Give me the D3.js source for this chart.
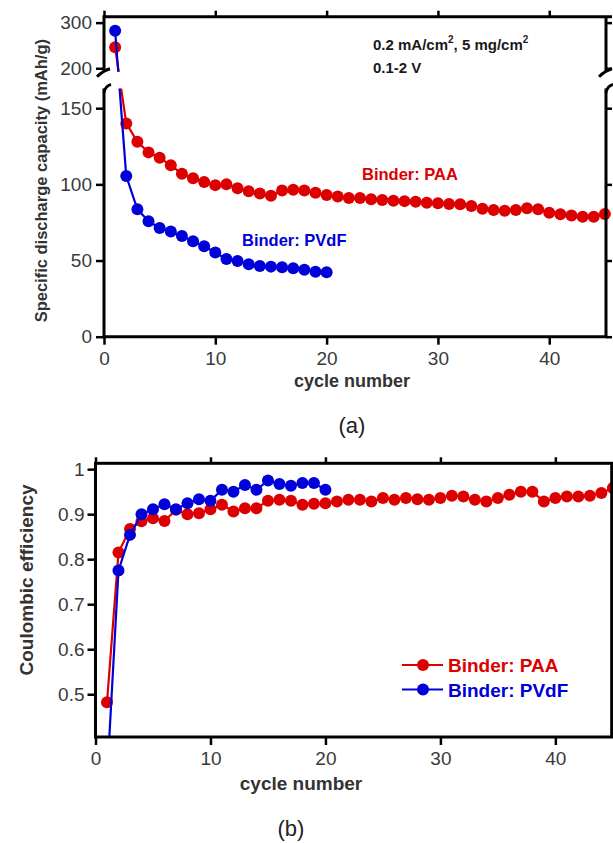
<!DOCTYPE html>
<html>
<head>
<meta charset="utf-8">
<script src="https://cdn.jsdelivr.net/npm/d3@7"></script>
<style>
  html, body { margin: 0; padding: 0; background: #fff; }
  svg { display: block; font-family: "Liberation Sans", Arial, sans-serif; }
  .tick text { font-size: 19px; fill: #3a3a3a; }
  .tick line { stroke: #000; stroke-width: 2.5; }
  .frame { stroke: #000; stroke-width: 3; fill: none; }
  .axis-title { font-weight: bold; fill: #333; }
</style>
</head>
<body>
<div id="chart"></div>
<script>
// cycle index = position in the array + 1
const capPAA = [246, 140, 128, 121, 117.5, 112.5, 107, 104, 101.5, 99.5,
  100, 97.5, 95.5, 94, 92.5, 96, 96.5, 96, 94.5, 93,
  92, 91, 91, 90.2, 89.8, 89.3, 89, 88.6, 88, 87.6,
  87.1, 86.9, 85.8, 84, 83.2, 82.7, 83.2, 84.3, 83.6, 81.4,
  80.4, 79.5, 78.8, 78.8, 80.5];
const capPVdF = [282, 105.5, 83.6, 75.8, 71.4, 69, 66.1, 62.6, 59.4, 55.2,
  51, 49.7, 47.5, 46.4, 46, 45.6, 44.9, 44, 42.7, 42.3];

const cePAA = [0.482, 0.815, 0.867, 0.884, 0.891, 0.885, 0.91, 0.90, 0.902, 0.911,
  0.921, 0.906, 0.913, 0.913, 0.930, 0.932, 0.930, 0.921, 0.923, 0.924,
  0.928, 0.932, 0.932, 0.928, 0.936, 0.932, 0.936, 0.933, 0.932, 0.936,
  0.941, 0.939, 0.932, 0.928, 0.936, 0.943, 0.950, 0.950, 0.928, 0.936,
  0.939, 0.939, 0.941, 0.947, 0.958];
const cePVdF = [0.31, 0.775, 0.854, 0.90, 0.911, 0.922, 0.911, 0.924, 0.933, 0.930,
  0.954, 0.950, 0.965, 0.954, 0.975, 0.967, 0.963, 0.969, 0.969, 0.954];

const xTicks = [0, 10, 20, 30, 40];
const capTicksLow = [0, 50, 100, 150];
const capTicksHigh = [200, 300];
const ceTicks = [0.5, 0.6, 0.7, 0.8, 0.9, 1];

const RED = "#dc0000", BLUE = "#0000d8";
const series = [
  { name: "Binder: PAA", color: RED, cap: capPAA, ce: cePAA },
  { name: "Binder: PVdF", color: BLUE, cap: capPVdF, ce: cePVdF }
];
const DOT = 6;

const svg = d3.select("#chart").append("svg").attr("width", 613).attr("height", 843);

// ---------- (a) capacity ----------
const xA = d3.scaleLinear().domain([0, 45.1]).range([104, 606]);
// broken axis: 163..192.5 is the gap
const yA = d3.scaleLinear().domain([0, 163, 192.5, 313]).range([336.7, 88.4, 71.7, 16.7]);
const gapTop = yA(192.5), gapBot = yA(163);

svg.append("clipPath").attr("id", "clipAup").append("rect")
  .attr("x", 0).attr("y", 0).attr("width", 613).attr("height", gapTop);
svg.append("clipPath").attr("id", "clipAlow").append("rect")
  .attr("x", 0).attr("y", gapBot).attr("width", 613).attr("height", 337 - gapBot);

const lineA = d3.line().x((d, i) => xA(i + 1)).y(d => yA(d));

["clipAup", "clipAlow"].forEach(cid => {
  const pg = svg.append("g").attr("clip-path", `url(#${cid})`);
  series.forEach(s => {
    pg.append("path").datum(s.cap).attr("d", lineA)
      .attr("fill", "none").attr("stroke", s.color).attr("stroke-width", 2.2);
    pg.selectAll(null).data(s.cap).enter().append("circle")
      .attr("cx", (d, i) => xA(i + 1)).attr("cy", d => yA(d))
      .attr("r", DOT).attr("fill", s.color);
  });
});

// axes
const axA = svg.append("g");
axA.append("g").attr("transform", `translate(0,${yA(0)})`)
  .call(d3.axisBottom(xA).tickValues(xTicks).tickSize(8).tickPadding(7).tickSizeOuter(0))
  .call(g => g.select(".domain").remove());
axA.append("g").attr("transform", `translate(0,${yA(313)})`)
  .call(d3.axisTop(xA).tickValues(xTicks).tickSize(6).tickFormat("").tickSizeOuter(0))
  .call(g => g.select(".domain").remove());
axA.append("g").attr("transform", `translate(${xA(0)},0)`)
  .call(d3.axisLeft(yA).tickValues(capTicksLow.concat(capTicksHigh)).tickSize(8).tickPadding(4))
  .call(g => g.select(".domain").remove());
axA.append("g").attr("transform", `translate(${xA(45.1)},0)`)
  .call(d3.axisRight(yA).tickValues(capTicksLow.concat(capTicksHigh)).tickSize(6).tickFormat(""))
  .call(g => g.select(".domain").remove());

const L = xA(0), R = xA(45.1), T = yA(313), B = yA(0);
axA.append("path").attr("class", "frame")
  .attr("d", `M${L},${gapTop} L${L},${T} L${R + 6},${T}`);
axA.append("path").attr("class", "frame")
  .attr("d", `M${L},${gapBot} L${L},${B} L${R},${B} L${R},${gapBot}`);
axA.append("path").attr("class", "frame")
  .attr("d", `M${R},${T} L${R},${gapTop}`);
// break marks
[L, R].forEach(x => {
  axA.append("path").attr("class", "frame").attr("stroke-width", 2.5)
    .attr("d", `M${x - 7},${gapTop + 5} Q${x - 1},${gapTop - 1} ${x + 6},${gapTop - 3}`);
  axA.append("path").attr("class", "frame").attr("stroke-width", 2.5)
    .attr("d", `M${x},${gapBot + 4} Q${x + 1},${gapBot - 2} ${x + 7},${gapBot - 4}`);
});

svg.append("text").attr("class", "axis-title")
  .attr("transform", `translate(47,${(T + B) / 2 + 4}) rotate(-90)`)
  .attr("text-anchor", "middle").style("font-size", "16.5px")
  .text("Specific discharge capacity (mAh/g)");
svg.append("text").attr("class", "axis-title")
  .attr("x", 352).attr("y", 387).attr("text-anchor", "middle").style("font-size", "18px")
  .text("cycle number");
svg.append("text").attr("x", 352).attr("y", 433).attr("text-anchor", "middle")
  .style("font-size", "22px").attr("fill", "#222").text("(a)");

const note = svg.append("text").attr("x", 373).attr("y", 50)
  .style("font-size", "15px").style("font-weight", "bold").attr("fill", "#1a1a1a");
note.append("tspan").text("0.2 mA/cm");
note.append("tspan").attr("dy", -7).style("font-size", "10px").text("2");
note.append("tspan").attr("dy", 7).text(", 5 mg/cm");
note.append("tspan").attr("dy", -7).style("font-size", "10px").text("2");
svg.append("text").attr("x", 373).attr("y", 73)
  .style("font-size", "15px").style("font-weight", "bold").attr("fill", "#1a1a1a").text("0.1-2 V");

svg.append("text").attr("x", 362).attr("y", 180).attr("fill", RED)
  .style("font-size", "16.5px").style("font-weight", "bold").text(series[0].name);
svg.append("text").attr("x", 242).attr("y", 246).attr("fill", BLUE)
  .style("font-size", "16.5px").style("font-weight", "bold").text(series[1].name);

// ---------- (b) coulombic efficiency ----------
const xB = d3.scaleLinear().domain([0, 44.9]).range([95.5, 611.7]);
const yB = d3.scaleLinear().domain([0.405, 1.013]).range([737, 463.3]);

svg.append("clipPath").attr("id", "clipB").append("rect")
  .attr("x", 0).attr("y", 455).attr("width", 613).attr("height", 737 - 455);

const lineB = d3.line().x((d, i) => xB(i + 1)).y(d => yB(d));
const pb = svg.append("g").attr("clip-path", "url(#clipB)");
series.forEach(s => {
  pb.append("path").datum(s.ce).attr("d", lineB)
    .attr("fill", "none").attr("stroke", s.color).attr("stroke-width", 2.2);
  pb.selectAll(null).data(s.ce).enter().append("circle")
    .attr("cx", (d, i) => xB(i + 1)).attr("cy", d => yB(d))
    .attr("r", DOT).attr("fill", s.color);
});

const axB = svg.append("g");
axB.append("g").attr("transform", `translate(0,${yB(0.405)})`)
  .call(d3.axisBottom(xB).tickValues(xTicks).tickSize(8).tickPadding(7).tickSizeOuter(0))
  .call(g => g.select(".domain").remove());
axB.append("g").attr("transform", `translate(0,${yB(1.013)})`)
  .call(d3.axisTop(xB).tickValues(xTicks).tickSize(6).tickFormat("").tickSizeOuter(0))
  .call(g => g.select(".domain").remove());
axB.append("g").attr("transform", `translate(${xB(0)},0)`)
  .call(d3.axisLeft(yB).tickValues(ceTicks).tickSize(8).tickPadding(3).tickFormat(d3.format("")))
  .call(g => g.select(".domain").remove());
axB.append("rect").attr("class", "frame")
  .attr("x", xB(0)).attr("y", yB(1.013))
  .attr("width", xB(44.9) - xB(0)).attr("height", yB(0.405) - yB(1.013));

svg.append("text").attr("class", "axis-title")
  .attr("transform", `translate(33,580) rotate(-90)`)
  .attr("text-anchor", "middle").style("font-size", "19px")
  .text("Coulombic efficiency");
svg.append("text").attr("class", "axis-title")
  .attr("x", 301).attr("y", 790).attr("text-anchor", "middle").style("font-size", "19px")
  .text("cycle number");
svg.append("text").attr("x", 291).attr("y", 836).attr("text-anchor", "middle")
  .style("font-size", "22px").attr("fill", "#222").text("(b)");

// legend
const leg = svg.append("g");
series.forEach((s, i) => {
  const y = 665 + i * 24.5;
  leg.append("line").attr("x1", 402).attr("x2", 443).attr("y1", y).attr("y2", y)
    .attr("stroke", s.color).attr("stroke-width", 2.2);
  leg.append("circle").attr("cx", 423).attr("cy", y).attr("r", DOT).attr("fill", s.color);
  leg.append("text").attr("x", 448).attr("y", y + 7).attr("fill", s.color)
    .style("font-size", "19px").style("font-weight", "bold").text(s.name);
});
</script>
</body>
</html>
